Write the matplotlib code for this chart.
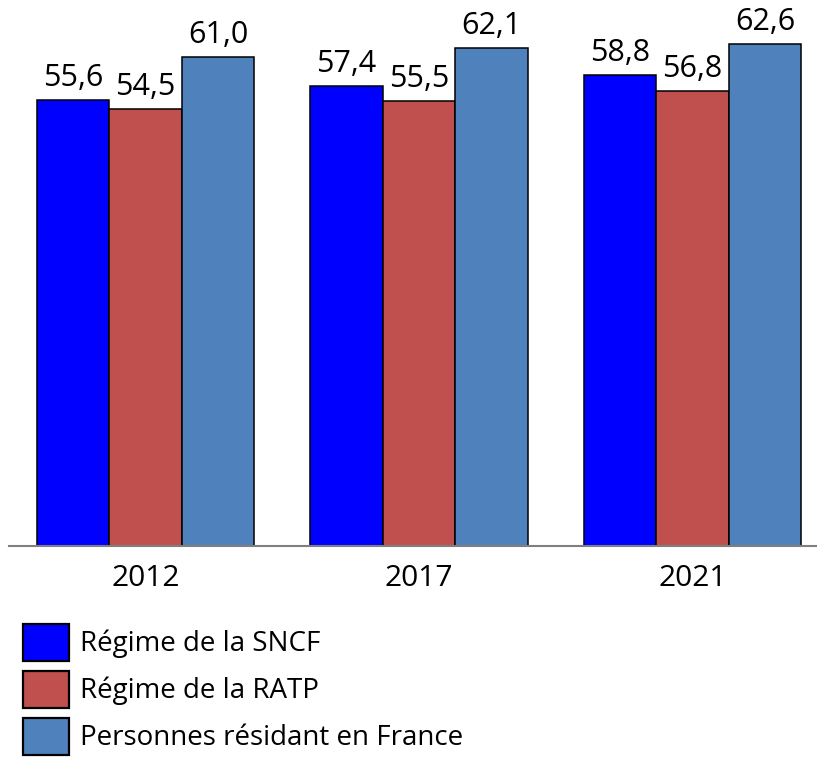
import numpy as np
import matplotlib
matplotlib.use("Agg")
import matplotlib.pyplot as plt

# données
annees = ["2012", "2017", "2021"]
series = ["Régime de la SNCF", "Régime de la RATP", "Personnes résidant en France"]
sncf = [55.6, 57.4, 58.8]
ratp = [54.5, 55.5, 56.8]
france = [61.0, 62.1, 62.6]
couleurs = ["#0000FF", "#C0504D", "#4F81BD"]

plt.rcParams["font.family"] = ["Open Sans", "DejaVu Sans"]

fig = plt.figure(figsize=(8.17, 7.58), dpi=100)
ax = fig.add_axes([0.011, 0.2797, 0.989, 0.7203])

x = np.arange(len(annees))
w = 0.265
for i, (vals, nom) in enumerate(zip([sncf, ratp, france], series)):
    pos = x + (i - 1) * w
    bars = ax.bar(pos, vals, w, color=couleurs[i], edgecolor="black",
                  linewidth=1.1, label=nom)
    for b, v in zip(bars, vals):
        ax.annotate(f"{v:.1f}".replace(".", ","),
                    (b.get_x() + b.get_width() / 2, b.get_height()),
                    xytext=(0, 5), textcoords="offset points",
                    ha="center", va="bottom", fontsize=22)

ax.set_xlim(-0.5, 2.455)
ax.set_ylim(0, 68.1)
ax.set_xticks(x)
ax.set_xticklabels(annees, fontsize=21.5)
ax.tick_params(axis="x", length=0, pad=13)
ax.set_yticks([])
for s in ["top", "right", "left"]:
    ax.spines[s].set_visible(False)
ax.spines["bottom"].set_color("#7f7f7f")
ax.spines["bottom"].set_linewidth(1.5)

leg = fig.legend(loc="upper left", bbox_to_anchor=(0.028, 0.177), frameon=False,
                 fontsize=20, handlelength=1.65, handleheight=1.67,
                 labelspacing=0.36, handletextpad=0.4, borderaxespad=0, borderpad=0)
for p in leg.get_patches():
    p.set_linewidth(1.6)

fig.savefig("out.png", dpi=100)
